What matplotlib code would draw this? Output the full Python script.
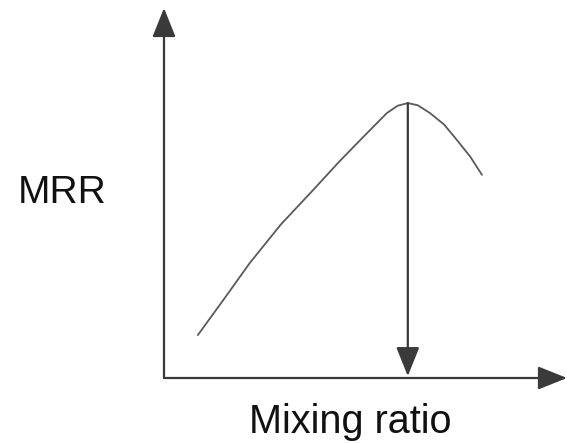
import matplotlib
matplotlib.use('Agg')
import matplotlib.pyplot as plt

# curve (arbitrary units, axes span 0..10)
mix_ratio = [0.84, 1.5, 2.13, 2.9, 3.70, 4.35, 4.94, 5.53, 5.80, 6.05, 6.30, 6.60, 6.95, 7.27, 7.60, 7.89]
mrr = [1.16, 2.15, 3.11, 4.15, 5.08, 5.85, 6.51, 7.16, 7.36, 7.43, 7.37, 7.16, 6.85, 6.43, 5.98, 5.49]
peak_x = 6.05
peak_y = 7.43

fig = plt.figure(figsize=(5.67, 4.43), dpi=100)
ax = fig.add_axes([164 / 567, 65 / 443, 403 / 567, 370 / 443])
ax.set_xlim(0, 10)
ax.set_ylim(0, 10)
ax.axis('off')

axis_col = '#3a3a3a'
arrow = dict(arrowstyle='-|>,head_length=0.9,head_width=0.36', mutation_scale=20,
             color=axis_col, lw=1.6, shrinkA=0, shrinkB=0)

# axes with arrow heads
ax.annotate('', xy=(0, 10), xytext=(0, 0), arrowprops=arrow, annotation_clip=False)
ax.annotate('', xy=(10, 0), xytext=(0, 0), arrowprops=arrow, annotation_clip=False)

# MRR curve
ax.plot(mix_ratio, mrr, color='#5a5a5a', lw=1.3, solid_capstyle='round',
        solid_joinstyle='round')

# arrow from the peak down to the optimum mixing ratio
ax.annotate('', xy=(peak_x, 0.05), xytext=(peak_x, peak_y), arrowprops=arrow,
            annotation_clip=False)

ax.text(-3.62, 4.73, 'MRR', fontsize=28, family='Liberation Sans', color='#111111',
        ha='left', va='baseline', clip_on=False)
ax.text(4.62, -1.49, 'Mixing ratio', fontsize=28.5, family='Liberation Sans', color='#111111',
        ha='center', va='baseline', clip_on=False)

fig.savefig('out.png', dpi=100)
